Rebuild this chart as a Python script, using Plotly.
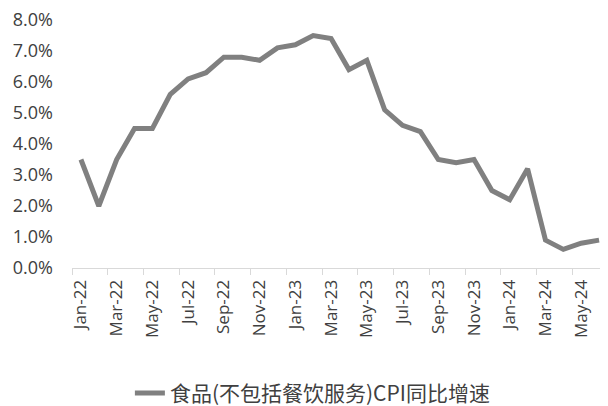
import plotly.graph_objects as go

months = ["Jan-22","Feb-22","Mar-22","Apr-22","May-22","Jun-22","Jul-22","Aug-22","Sep-22","Oct-22","Nov-22","Dec-22",
          "Jan-23","Feb-23","Mar-23","Apr-23","May-23","Jun-23","Jul-23","Aug-23","Sep-23","Oct-23","Nov-23","Dec-23",
          "Jan-24","Feb-24","Mar-24","Apr-24","May-24","Jun-24"]
values = [3.5, 2.0, 3.5, 4.5, 4.5, 5.6, 6.1, 6.3, 6.8, 6.8, 6.7, 7.1,
          7.2, 7.5, 7.4, 6.4, 6.7, 5.1, 4.6, 4.4, 3.5, 3.4, 3.5, 2.5,
          2.2, 3.2, 0.9, 0.6, 0.8, 0.9]
y_ticks = [0, 1, 2, 3, 4, 5, 6, 7, 8]
series_name = "食品(不包括餐饮服务)CPI同比增速"

fig = go.Figure()
fig.add_trace(go.Scatter(
    x=months, y=values, mode="lines", name=series_name,
    line=dict(color="#808080", width=5),
))

# page body has an 8px margin, so the figure is sized/offset to compensate
fig.update_layout(
    width=600, height=398,
    margin=dict(l=64, r=0, t=12, b=138, autoexpand=False),
    paper_bgcolor="white", plot_bgcolor="white",
    font=dict(family="Open Sans, Noto Sans CJK SC", size=17, color="#404040"),
    showlegend=True,
    legend=dict(orientation="h", x=0.108, xanchor="left", y=-0.505, yanchor="middle",
                font=dict(size=21, family="Noto Sans CJK SC", color="#404040")),
    xaxis=dict(type="category", tickangle=-90, dtick=2, tickson="boundaries",
               ticks="outside", ticklen=6, tickcolor="#d9d9d9",
               showline=True, linecolor="#d9d9d9", linewidth=1,
               showgrid=False, range=[-0.5, 29.5], automargin=False,
               ticklabelstandoff=4,
               tickfont=dict(size=17, color="#404040")),
    yaxis=dict(range=[0, 8], tickvals=y_ticks,
               ticktext=[f"{v:.1f}%" for v in y_ticks],
               showgrid=False, zeroline=False, showline=False, automargin=False,
               ticklabeloverflow="allow", ticklabelstandoff=18,
               tickfont=dict(size=18, color="#404040")),
)

fig.write_html("out.html")
